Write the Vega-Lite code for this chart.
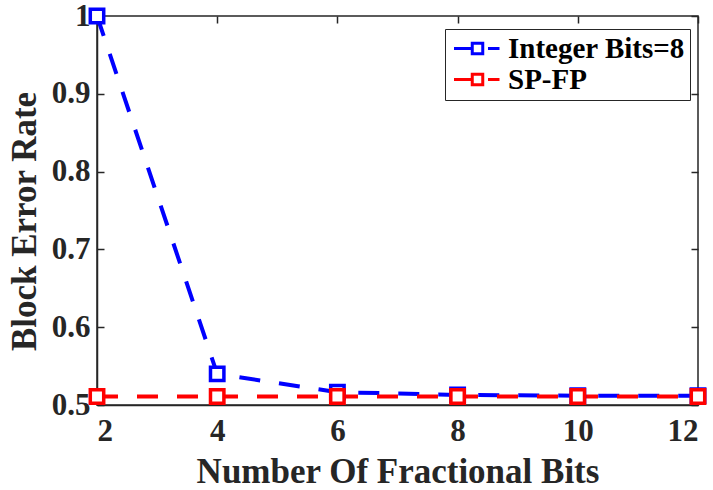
{
  "$schema": "https://vega.github.io/schema/vega-lite/v6.json",
  "width": 601,
  "height": 389,
  "autosize": {"type": "none"},
  "padding": {"left": 97, "top": 16, "right": 15, "bottom": 85},
  "background": "white",
  "config": {
    "font": "Liberation Serif",
    "view": {"stroke": "#262626", "strokeWidth": 1.5},
    "axis": {
      "domainColor": "#262626", "domainWidth": 1.5,
      "tickColor": "#262626", "tickWidth": 1.5, "tickSize": -7,
      "grid": false,
      "labelFont": "Liberation Serif", "labelFontWeight": "bold", "labelFontSize": 31, "labelColor": "#262626",
      "titleFont": "Liberation Serif", "titleFontWeight": "bold", "titleFontSize": 35, "titleColor": "#262626"
    }
  },
  "data": {"values": [
    {"bits": 2, "rate": 1.0, "series": "Integer Bits=8"},
    {"bits": 4, "rate": 0.540, "series": "Integer Bits=8"},
    {"bits": 6, "rate": 0.5165, "series": "Integer Bits=8"},
    {"bits": 8, "rate": 0.513, "series": "Integer Bits=8"},
    {"bits": 10, "rate": 0.512, "series": "Integer Bits=8"},
    {"bits": 12, "rate": 0.512, "series": "Integer Bits=8"},
    {"bits": 2, "rate": 0.511, "series": "SP-FP"},
    {"bits": 4, "rate": 0.511, "series": "SP-FP"},
    {"bits": 6, "rate": 0.511, "series": "SP-FP"},
    {"bits": 8, "rate": 0.511, "series": "SP-FP"},
    {"bits": 10, "rate": 0.511, "series": "SP-FP"},
    {"bits": 12, "rate": 0.511, "series": "SP-FP"}
  ]},
  "resolve": {"axis": {"x": "independent", "y": "independent"}},
  "layer": [
    {
      "mark": {"type": "point", "opacity": 0},
      "encoding": {
        "x": {"field": "bits", "type": "quantitative", "scale": {"domain": [2, 12], "nice": false, "zero": false},
          "axis": {"orient": "top", "values": [2, 4, 6, 8, 10, 12], "labels": false, "title": null, "domain": false}},
        "y": {"field": "rate", "type": "quantitative", "scale": {"domain": [0.5, 1], "nice": false, "zero": false},
          "axis": {"orient": "right", "values": [0.5, 0.6, 0.7, 0.8, 0.9, 1], "labels": false, "title": null, "domain": false}}
      }
    },
    {
      "encoding": {
        "x": {"field": "bits", "type": "quantitative", "scale": {"domain": [2, 12], "nice": false, "zero": false},
          "axis": {"values": [2, 4, 6, 8, 10, 12], "title": "Number Of Fractional Bits", "labelPadding": 18, "titlePadding": 8}},
        "y": {"field": "rate", "type": "quantitative", "scale": {"domain": [0.5, 1], "nice": false, "zero": false},
          "axis": {"values": [0.5, 0.6, 0.7, 0.8, 0.9, 1], "format": "~g", "title": "Block Error Rate", "labelPadding": 14, "titlePadding": 9, "titleY": 205}},
        "color": {"field": "series", "type": "nominal", "scale": {"domain": ["Integer Bits=8", "SP-FP"], "range": ["#0000ff", "#ff0000"]},
          "legend": {
            "orient": "none", "legendX": 348, "legendY": 13, "title": null,
            "strokeColor": "#262626", "fillColor": "white", "padding": 5,
            "labelFont": "Liberation Serif", "labelFontWeight": "bold", "labelFontSize": 29, "labelColor": "black", "labelLimit": 400,
            "symbolType": "M-4.7,0H-1.05M2.1,0H4.4M-1.05,-1.05H1.05V1.05H-1.05Z",
            "symbolStrokeWidth": 3, "symbolFillColor": "white", "symbolOffset": 13,
            "rowPadding": 1, "labelOffset": 16
          }}
      },
      "layer": [
        {"mark": {"type": "line", "strokeWidth": 4, "strokeDash": [21, 19]}},
        {"mark": {"type": "point", "shape": "square", "filled": false, "fill": "white", "fillOpacity": 1, "strokeWidth": 3.5, "size": 180, "opacity": 1}}
      ]
    }
  ]
}
